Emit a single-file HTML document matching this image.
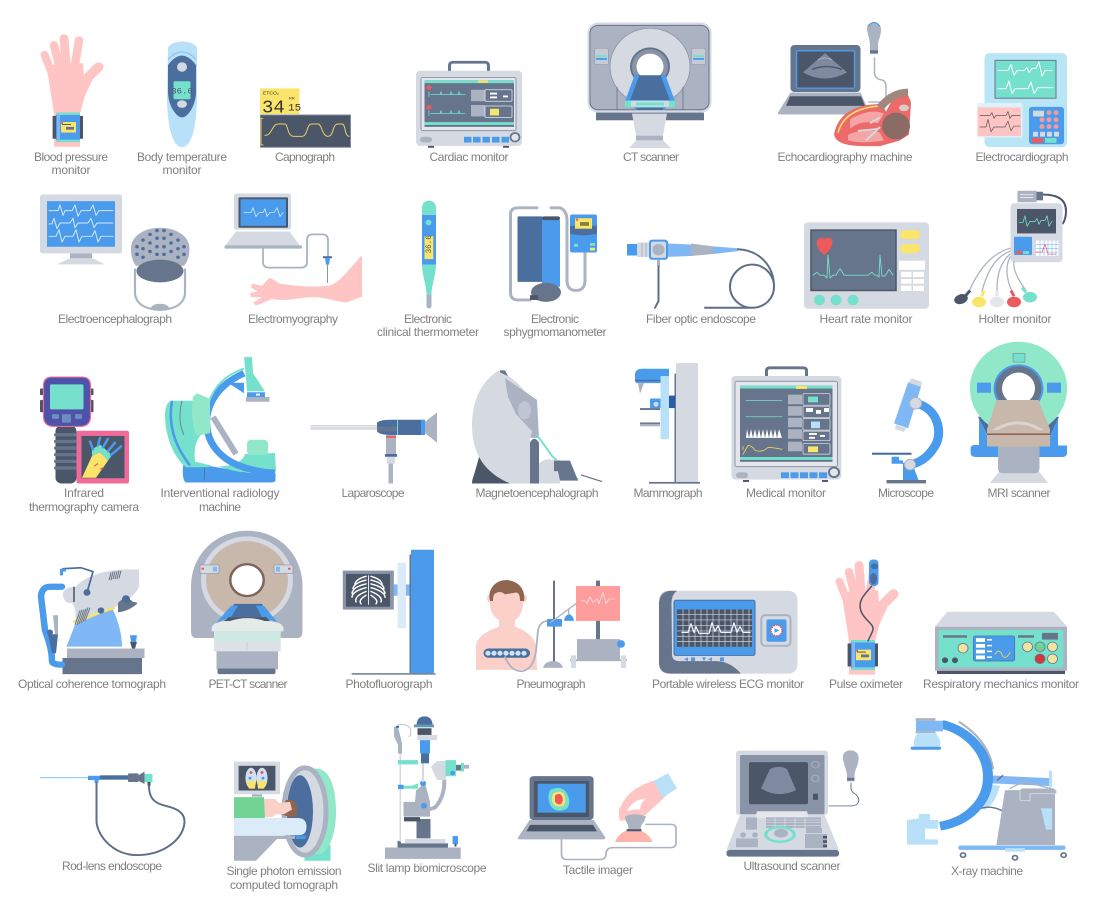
<!DOCTYPE html>
<html><head><meta charset="utf-8"><title>Medical devices</title>
<style>
html,body{margin:0;padding:0;background:#fff}
svg{display:block}
.lg{fill:#d5d9e1}.mg{fill:#abb3c2}.sl{fill:#66748c}.dk{fill:#4b5669}.bl{fill:#4a9bec}.db{fill:#4a6e9e}.lb{fill:#b8e0f8}.te{fill:#75e0cc}.mi{fill:#90e8c8}.ye{fill:#fae56a}.pk{fill:#ffc5c5}.re{fill:#ec5b5b}.wh{fill:#fff}.mb{fill:#7fb8f5}
.n{fill:none;stroke-linecap:round;stroke-linejoin:round}
.l text,text.t{font:12px "Liberation Sans",sans-serif;fill:#808080;text-anchor:middle}
</style></head><body>
<svg width="1095" height="912" viewBox="0 0 1095 912" xmlns="http://www.w3.org/2000/svg">
<defs>
<g id="hand">
<g stroke="#ffc5c5" stroke-linecap="round" fill="none">
<path d="M44.500 57L55 85" stroke-width="8"/><path d="M54 47L62 80" stroke-width="8.500"/><path d="M64 40L67 80" stroke-width="9"/><path d="M79 42L73 80" stroke-width="8.500"/><path d="M98.500 70L84 85" stroke-width="10"/>
</g>
<path class="pk" d="M47 72L56 66L83 66L84 80L96 76L85 100L80 119L80 154L54 154L54 119Z"/>
<rect x="52.600" y="121.500" width="30.400" height="24" class="dk"/>
<rect x="56" y="118" width="24" height="31" class="bl"/>
<rect x="56" y="118" width="24" height="2.500" class="te"/><rect x="56" y="146.500" width="24" height="2.500" class="te"/>
<rect x="57" y="120" width="3" height="27" class="mb"/>
<rect x="61" y="128" width="15" height="11" class="ye"/><rect x="62" y="130" width="9" height="1" class="dk"/><rect x="66" y="133" width="8" height="3" class="sl"/><rect x="61" y="128" width="2" height="2" class="re"/>
</g>
</defs>

<!-- ROW 1 LEFT -->
<g transform="translate(0,.5) scale(1,.95)">
<use href="#hand"/>

<path class="lb" d="M168 50Q170 44 182 43Q195 44 197 50L197 100C197 130 192 154.500 182 154.500C172 154.500 167 130 167 100Z"/>
<path d="M168 62Q182 46 196 62" fill="none" stroke="#7fbcf0" stroke-width="1"/>
<path class="db" d="M168 68Q182 48 196 68L196 96C196 110 188 123 182 123C176 123 168 110 168 96Z"/>
<circle cx="182" cy="70" r="5" class="lg"/><rect x="173.500" y="85" width="17" height="19" rx="1.500" class="te"/>
<text x="182" y="98" font-family="Liberation Mono,monospace" font-size="9" text-anchor="middle" fill="#4b5669">36.6</text>
<ellipse cx="182" cy="109" rx="5" ry="4" class="lg"/>

<rect x="260" y="92.500" width="39.500" height="27" class="ye"/>
<text x="263" y="99" font-family="Liberation Sans,sans-serif" font-size="5" fill="#333">ETCO₂</text>
<text x="262" y="118" font-family="Liberation Mono,monospace" font-size="19" fill="#333">34</text>
<text x="289" y="104" font-family="Liberation Sans,sans-serif" font-size="4" fill="#333">RR</text>
<text x="288" y="116" font-family="Liberation Mono,monospace" font-size="11" fill="#333">15</text>
<rect x="260.500" y="120.500" width="90" height="34" class="dk" stroke="#7f8aa0"/>
<path class="n" d="M263 124H261V152H263M265 142C272 142 272 130 278 130H285C288 130 287 143 294 143H302C308 143 306 130 312 130H318C322 130 322 143 328 143C334 143 332 130 338 130H342C346 130 344 142 349 143" stroke="#e8d060" stroke-width="1"/>

<path d="M449.500 75V69Q449.500 65 453 65H485Q488.500 65 488.500 69V75" fill="none" stroke="#66748c" stroke-width="3"/>
<rect x="416" y="74" width="106" height="79" rx="4" class="lg"/>
<rect x="421" y="81" width="95" height="56" rx="2" fill="#e4e6ec" stroke="#8a94a8"/>
<rect x="424.500" y="84" width="89.500" height="49" class="sl"/>
<rect x="424.500" y="84" width="89.500" height="3" class="te"/><rect x="424.500" y="128" width="89.500" height="3" class="te"/>
<rect x="478" y="84" width="10" height="2.500" class="ye"/>
<path class="n" d="M431 99H465M431 119H465" stroke="#75e0cc" stroke-width=".8"/>
<path class="n" d="M429 96V101M429 116V121M440 99l1-3 1 3M450 99l1-3 1 3M458 99l1-3 1 3M440 119l1-3 1 3M450 119l1-3 1 3M458 119l1-3 1 3" stroke="#75e0cc" stroke-width=".8"/>
<circle cx="429" cy="91.500" r="2.500" class="re"/><circle cx="429" cy="112.500" r="2.500" class="re"/>
<rect x="471" y="94" width="14" height="12" fill="#abb3c2"/><rect x="471" y="110" width="14" height="12" fill="#abb3c2"/>
<rect x="485" y="94" width="27" height="12" rx="1" fill="#66748c" stroke="#e4e6ec" stroke-width=".8"/>
<rect x="485" y="111" width="27" height="12" rx="1" fill="#66748c" stroke="#e4e6ec" stroke-width=".8"/>
<rect x="490" y="97" width="7" height="2" class="wh"/><rect x="490" y="101" width="7" height="2" class="wh"/><rect x="503" y="100" width="5" height="2" class="wh"/>
<rect x="490" y="114" width="9" height="7" class="ye"/>
<rect x="420" y="143.500" width="12" height="6" rx="3" class="mg"/>
<rect x="464" y="143.500" width="7.500" height="6" class="bl"/><rect x="473" y="143.500" width="7.500" height="6" class="bl"/><rect x="482.500" y="143.500" width="7.500" height="6" class="bl"/><rect x="492" y="143.500" width="7.500" height="6" class="bl"/><rect x="501.500" y="143.500" width="7.500" height="6" class="bl"/>
<circle cx="515" cy="144" r="4.500" fill="#e4e6ec" stroke="#66748c" stroke-width="1.800"/>
<rect x="428" y="153" width="6" height="2" class="dk"/><rect x="503" y="153" width="6" height="2" class="dk"/>
</g>

<!-- ROW 1 RIGHT -->
<g transform="translate(0,.41) scale(1,.959)">
<rect x="587.500" y="23" width="124" height="94" rx="11" class="lg"/>
<rect x="590" y="26" width="119" height="88" rx="8" class="mg" stroke="#66748c"/>
<rect x="596" y="117" width="108" height="8" class="sl"/>
<path class="lg" d="M632 118H667L663 141H636Z"/><rect x="636" y="141" width="27" height="5" class="mg"/><path class="lg" d="M636 146H663L671 154H629Z"/>
<circle cx="650" cy="69" r="40" class="lg" stroke="#8a94a8" stroke-width=".8"/>
<circle cx="650" cy="69" r="20" class="sl"/><circle cx="650" cy="69" r="18" fill="#8a94a8"/><circle cx="650" cy="69" r="13.500" class="wh"/>
<rect x="594.500" y="50" width="14" height="17" rx="2" fill="#c6cbd6" stroke="#8a94a8" stroke-width=".6"/><rect x="691.500" y="50" width="14" height="17" rx="2" fill="#c6cbd6" stroke="#8a94a8" stroke-width=".6"/>
<rect x="596" y="57" width="11" height="2" class="te"/><rect x="596" y="60" width="11" height="2" class="bl"/><rect x="693" y="57" width="11" height="2" class="te"/><rect x="693" y="60" width="11" height="2" class="bl"/>
<path d="M637 78H663L671 104H629Z" class="db"/>
<path d="M637 78L627 106M663 78L673 106" stroke="#4a9bec" stroke-width="4.500"/>
<path class="bl" d="M627 104L636 114H664L673 104Z"/>
<rect x="625" y="104.500" width="50" height="7" class="te"/><rect x="631" y="105" width="38" height="6" class="lg"/><rect x="636" y="106.500" width="28" height="3" class="te"/>
<rect x="637" y="112" width="26" height="2" class="db"/>
<path d="M617 90V114M683 90V114" stroke="#66748c" stroke-width=".8"/>

<rect x="790.500" y="46.500" width="70" height="49" rx="4" class="sl"/>
<rect x="796.500" y="52.500" width="58" height="39" rx="1" class="dk" stroke="#4a9bec" stroke-width="1.500"/>
<path d="M803 75L825 55L847 75Q825 88 803 75Z" fill="#7f8aa0"/>
<path d="M812 72Q826 66 842 72" fill="none" stroke="#4b5669" stroke-width="1.500"/><path d="M818 62Q825 58 832 62" fill="none" stroke="#abb3c2"/>
<path class="mg" d="M790.500 96H860.500L870 118.500Q870 119 867 119H781Q777 119 778 117Z"/>
<path class="dk" d="M790 100H861L865 110H786Z"/>
<path class="n" d="M874.500 60V76Q875 82 882 83Q886 84 886 90V102Q886 106 880 106H869" stroke="#abb3c2" stroke-width="1.500"/>
<path class="mg" d="M867 30C866 21 881 21 881 30C881 39 878 40 878 48V56H870V48C870 40 868 38 867 30Z"/>
<path d="M868 27Q874 19 880 27" fill="none" stroke="#4a9bec" stroke-width="1.200"/><rect x="870" y="52" width="8" height="3" class="sl"/>
<path d="M834 140C837 122 850 108 882 108L886 116L895 98L907 96L911 106L909 140L900 146L880 152H866C850 152 836 150 834 140Z" fill="#ec6a6a"/>
<path d="M838 138C842 122 855 112 880 110" fill="none" stroke="#fae56a" stroke-width="1.500"/>
<path d="M850 124Q870 112 884 118L878 128Q860 124 850 134Z" fill="#f6a5a5"/>
<path d="M848 140Q866 132 880 138L884 146Q862 150 848 146Z" fill="#f6a5a5"/>
<path d="M880 112Q892 96 908 96" stroke="#a08880" stroke-width="8" fill="none"/>
<circle cx="896" cy="131" r="14" fill="#8a6c64"/><ellipse cx="904" cy="112" rx="5" ry="3.500" fill="#d8ccc8"/>
<path d="M880 132L866 146M880 122L870 128M878 134L858 136" stroke="#d5d9e1" stroke-width="2"/>

<rect x="984.500" y="55" width="82.500" height="98" rx="5" fill="#b8e6f6"/>
<rect x="995" y="62.500" width="61" height="39.500" class="te" stroke="#66748c" stroke-width="1"/>
<path class="n" d="M998 73H1008L1011 67L1014 78L1017 73H1024L1027 70L1029 75L1032 71H1036L1039 64L1042 79L1045 73H1052M998 92H1006L1009 84L1012 97L1015 92H1028L1031 85L1034 97L1038 91H1053" stroke="#fff" stroke-width="1"/>
<rect x="977.500" y="107" width="45" height="36" fill="#dff2fa"/>
<rect x="977.500" y="111.500" width="43.500" height="30" class="pk"/>
<path class="n" d="M980 120H990L992 117L994 123L996 120H1006L1008 116L1010 123L1012 120H1020M980 132H986L988 124L991 137L994 132H1005L1008 126L1011 136L1014 131H1020" stroke="#555" stroke-width=".7"/>
<rect x="1029" y="111" width="35" height="39" rx="3" class="bl"/>
<rect x="1033" y="115" width="11" height="6" class="lg"/>
<g fill="#f49a9a"><circle cx="1049" cy="117" r="2.500"/><circle cx="1056" cy="117" r="2.500"/><circle cx="1049" cy="124.500" r="2.500"/><circle cx="1056" cy="124.500" r="2.500"/><circle cx="1042" cy="124.500" r="2.500"/><circle cx="1049" cy="131.500" r="2.500"/><circle cx="1056" cy="131.500" r="2.500"/><circle cx="1042" cy="131.500" r="2.500"/></g>
<g class="lg"><rect x="1033" y="137" width="5" height="5"/><rect x="1040" y="137" width="5" height="5"/><rect x="1047" y="137" width="5" height="5"/><rect x="1054" y="137" width="5" height="5"/></g>
<rect x="1032" y="143.500" width="11" height="5" class="re"/><rect x="1045" y="143.500" width="11.500" height="5" class="te"/>
</g>

<!-- ROW 2 LEFT -->
<g transform="translate(0,9.25) scale(1,.95)">
<rect x="40" y="195" width="82" height="62" rx="2.500" class="lg"/>
<rect x="47" y="202" width="68" height="48" class="bl"/>
<path class="n" d="M49 212H58L60 206L63 217L65 212H72L75 206L78 218L81 212H90L93 206L96 217L99 212H113M49 226H52L54 220L57 231L60 225H70L73 220L75 230L78 225H88L91 220L94 230L97 225H113M49 239H56L59 232L62 245L65 239H73L76 232L79 245L82 239H92L95 233L98 245L101 239H113" stroke="#d5e8fa" stroke-width="1"/>
<rect x="70" y="257" width="22" height="5.500" class="mg"/><path class="lg" d="M70 262H92L105 268.500H57Z"/>
<path d="M135 273V300Q137 312 150 315Q160 318 170 315Q183 312 185 300V273" fill="none" stroke="#abb3c2" stroke-width="2.200"/>
<path class="mg" d="M160 310Q152 310 150 316Q160 318 170 316Q168 310 160 310Z"/>
<path class="mg" d="M131 252C131 238 145 230 160 230C175 230 189.500 238 189.500 252C189.500 262 186 268 184 270H136C134 268 131 262 131 252Z"/>
<g class="db"><circle cx="137" cy="250" r="1.800"/><circle cx="137" cy="258" r="1.800"/><circle cx="143" cy="243" r="1.800"/><circle cx="143" cy="252" r="1.800"/><circle cx="143" cy="261" r="1.800"/><circle cx="150" cy="237" r="1.800"/><circle cx="150" cy="246" r="1.800"/><circle cx="150" cy="255" r="1.800"/><circle cx="157" cy="233" r="1.800"/><circle cx="157" cy="241" r="1.800"/><circle cx="157" cy="250" r="1.800"/><circle cx="157" cy="258" r="1.800"/><circle cx="164" cy="233" r="1.800"/><circle cx="164" cy="241" r="1.800"/><circle cx="164" cy="250" r="1.800"/><circle cx="164" cy="258" r="1.800"/><circle cx="171" cy="237" r="1.800"/><circle cx="171" cy="246" r="1.800"/><circle cx="171" cy="255" r="1.800"/><circle cx="178" cy="243" r="1.800"/><circle cx="178" cy="252" r="1.800"/><circle cx="178" cy="261" r="1.800"/><circle cx="184" cy="250" r="1.800"/><circle cx="184" cy="258" r="1.800"/></g>
<ellipse cx="160" cy="275.500" rx="23.500" ry="12" class="sl"/>

<rect x="234" y="194" width="57" height="38" rx="2.500" class="lg"/>
<rect x="238.500" y="198" width="49.500" height="32" rx="1" class="dk"/><rect x="240.500" y="200" width="45.500" height="28" class="bl"/>
<path class="n" d="M244 214H251L253 209L256 218L259 214H263L265 210L267 218L270 214H274L277 209L280 218L283 214" stroke="#d5e8fa" stroke-width=".8"/>
<path class="lg" d="M236 234H289.500L300 249H225Z"/><rect x="224.500" y="248.500" width="77.500" height="3.500" rx="1.500" class="mg"/>
<path class="n" d="M263 252V266Q263 272 269 272H301Q307 272 307 266V243Q307 237 313 237H322Q328 237 328 243V260" stroke="#abb3c2" stroke-width="1.800"/>
<rect x="323" y="260" width="9" height="2" class="db"/><path class="bl" d="M325 262H330L329 269H326Z"/><path d="M327.500 269V288" stroke="#8a94a8"/>
<path class="pk" d="M362 259V302.500L347 308.500C340 309 325 303 314 303C300 303 288 308 272 305L256 312L253 309L262 303L251 303L250 299L258 297L251 293L252 289L262 291L269 283L271 283L280 289C294 291 310 293 328 291C338 290 348 275 362 259Z"/>

<path class="te" d="M422 216.500V209C422 199 436 199 436 209V216.500Z"/>
<rect x="422" y="216.500" width="14" height="52.500" class="bl"/>
<path class="te" d="M422 269H436C436 280 431.500 290 431.500 300H426.500C426.500 290 422 280 422 269Z"/>
<path class="mg" d="M426.500 300H431.500V313Q429 317 426.500 313Z"/>
<circle cx="428.500" cy="224.500" r="3" class="te"/><rect x="424.500" y="239" width="8.800" height="24" class="ye"/>
<text x="0" y="0" transform="translate(431,257) rotate(-90)" font-family="Liberation Mono,monospace" font-size="8" fill="#4b5669">36.6</text>

<path class="n" d="M537 209H518Q510.500 209 510.500 216V298Q510.500 306 518 306H530" stroke="#abb3c2" stroke-width="3"/>
<path class="n" d="M551 209H560Q567 212 567 222V285Q567 296 576 296Q585 296 585 285V256" stroke="#abb3c2" stroke-width="3"/>
<rect x="517.500" y="218" width="25" height="69" rx="1" class="db"/><path class="bl" d="M542 222Q552 218 560 222V292H542Z"/><rect x="542" y="218" width="18" height="4" rx="2" class="dk"/>
<ellipse cx="546" cy="298" rx="15" ry="10" class="sl"/><rect x="530" y="301" width="8" height="5" class="dk"/>
<rect x="570" y="216" width="27" height="40" rx="2" class="bl"/><path class="db" d="M570 228H597V236Q583 240 570 236Z"/>
<rect x="575" y="220" width="17" height="11" class="ye"/><circle cx="577" cy="221.500" r="1.300" class="re"/><rect x="580" y="224" width="9" height="4" fill="#8a7f40"/>
<rect x="590" y="246" width="5" height="3" class="te"/><rect x="590" y="251" width="5" height="3" class="ye"/><rect x="574" y="247" width="4" height="3" class="te"/>
</g>

<!-- ROW 2 RIGHT -->
<g transform="translate(0,7.585) scale(1,.959)">
<rect x="627" y="246.500" width="10" height="12" class="bl"/>
<path class="lg" d="M637 245H651V260H637Z"/><path d="M642 245V260M646 245V260" stroke="#abb3c2"/>
<path class="mb" d="M668 246L691 247V259L668 260Z"/>
<path class="mg" d="M691 246L713 249V257L691 259Z"/>
<path class="mb" d="M713 249L738 251V254L713 257Z"/>
<rect x="649" y="242" width="19" height="21" rx="3" class="bl"/><rect x="651" y="244" width="15" height="17" rx="2" class="lg"/><circle cx="658.500" cy="252.500" r="6" class="mg"/>
<rect x="657" y="263" width="3" height="7" class="mg"/>
<path class="n" d="M658.500 270V306L655 313" stroke="#5f6e88" stroke-width="2"/>
<path class="n" d="M738 252C760 253 774 270 774 291C774 304 764 313 752 313C740 313 730 303 730 291C730 279 740 268 752 268C763 268 772 276 774 288M705 313H752" stroke="#5f6e88" stroke-width="2"/>

<rect x="804" y="224" width="125" height="90" rx="4" class="lg"/>
<rect x="811" y="232" width="85" height="63" class="sl" stroke="#4b5669" stroke-width="1.500"/>
<path d="M825 257C815 250 816 240 821 239C823 238.500 825 240 825 241C825 240 828 238.500 830 239C835 240 834 250 825 257Z" class="re" transform="translate(-.5,1)"/>
<path class="n" d="M813 279L817 276L820 279H824L827 282L828 258L830 282L833 279H836L840 272L844 279L868 279L872 276L875 279H877L879 281L880 258L882 280H885L889 273L893 279" stroke="#75e0cc" stroke-width=".9"/>
<rect x="900" y="232" width="20" height="9.500" rx="4.700" class="ye"/><rect x="900" y="246.500" width="20" height="9.500" rx="4.700" class="ye"/>
<rect x="899" y="264" width="26" height="9.500" class="wh"/>
<g class="wh"><rect x="901" y="275.500" width="10.500" height="5.500"/><rect x="913" y="275.500" width="11" height="5.500"/><rect x="901" y="283" width="10.500" height="5"/><rect x="913" y="283" width="11" height="5"/><rect x="901" y="290" width="10.500" height="5.500"/><rect x="913" y="290" width="11" height="5.500"/></g>
<circle cx="819.500" cy="305" r="5.500" class="te"/><circle cx="836" cy="305" r="5.500" class="te"/><circle cx="853" cy="305" r="5.500" class="te"/>

<path class="n" d="M1043 195Q1066 195 1066 212Q1066 220 1063 225" stroke="#4b5669" stroke-width="2"/>
<rect x="1017.500" y="191" width="19" height="12" class="mg"/><path d="M1036.500 192H1043V201H1036.500Z" class="sl"/>
<path d="M1020 195H1033M1020 198H1033" stroke="#e4e6ec"/>
<rect x="1010.500" y="204" width="52" height="61.500" rx="4" class="lg"/>
<rect x="1017" y="210" width="39" height="25.500" class="dk"/>
<path class="n" d="M1019 224H1023L1025 217L1027 228L1030 223H1035L1037 220L1039 226L1041 222H1045L1047 217L1049 228L1052 223" stroke="#75e0cc" stroke-width=".8"/>
<rect x="1014" y="239" width="18" height="19" rx="1" class="bl"/><rect x="1016" y="254" width="6" height="3" class="re"/><rect x="1023" y="254" width="6" height="3" class="te"/>
<rect x="1036" y="243" width="22.500" height="16" class="wh"/>
<path d="M1040 243V259M1044 243V259M1048 243V259M1052 243V259M1056 243V259M1036 247H1058M1036 251H1058M1036 255H1058" stroke="#7fb8f5" stroke-width=".6"/>
<path class="n" d="M1036 255H1042L1045 247L1048 257H1056" stroke="#ec5b5b" stroke-width=".7"/>
<g class="n" stroke="#abb3c2" stroke-width="1.300">
<path d="M1010 251Q985 258 969 296"/><path d="M1010 254Q990 262 982 296"/><path d="M1010 257Q996 270 997 297"/><path d="M1010 260Q1003 275 1012 296"/><path d="M1014 265Q1012 275 1026 295"/>
</g>
<ellipse cx="961" cy="304" rx="7" ry="5" transform="rotate(-20 961 304)" class="dk"/><path d="M966 300L970 295" stroke="#4b5669" stroke-width="3"/>
<ellipse cx="979" cy="307" rx="7" ry="5.500" class="ye"/><path d="M982 301L984 295" stroke="#fae56a" stroke-width="3"/>
<ellipse cx="997" cy="307" rx="7" ry="5.500" fill="#e4e6ec"/><path d="M997 301V295" stroke="#e4e6ec" stroke-width="3"/>
<ellipse cx="1014" cy="307" rx="7" ry="5.500" class="re"/><path d="M1014 301L1011 295" stroke="#ec5b5b" stroke-width="3"/>
<ellipse cx="1030" cy="302" rx="7" ry="5.500" class="te"/><path d="M1026 297L1022 292" stroke="#75e0cc" stroke-width="3"/>
</g>

<!-- ROW 3 LEFT -->
<g transform="translate(0,17) scale(1,.95)">
<rect x="40" y="391" width="4" height="7" rx="1" class="dk"/><rect x="40" y="403" width="4" height="13" rx="1" class="dk"/><rect x="89.500" y="391" width="4" height="7" rx="1" class="dk"/><rect x="89.500" y="403" width="4" height="13" rx="1" class="dk"/>
<rect x="55.500" y="430" width="21" height="61" rx="6" class="dk"/>
<g class="sl"><rect x="54" y="438" width="23" height="3.500" rx="1.700"/><rect x="54" y="445" width="23" height="3.500" rx="1.700"/><rect x="54" y="452" width="23" height="3.500" rx="1.700"/><rect x="54" y="459" width="23" height="3.500" rx="1.700"/><rect x="54" y="466" width="23" height="3.500" rx="1.700"/><rect x="54" y="473" width="23" height="3.500" rx="1.700"/></g>
<path d="M43.500 388Q43.500 379 52 379H82Q90.500 379 90.500 388V421Q90 431 80 431H54Q44 431 43.500 421Z" fill="#4e52a8" stroke="#f06b9a" stroke-width="1.200"/>
<rect x="50" y="386.700" width="33.500" height="26.300" rx="1.500" class="te"/>
<rect x="52" y="418" width="7" height="5" rx="1" fill="#6c8fc0"/><rect x="62" y="418" width="9" height="9" rx="1" fill="#6c8fc0"/><rect x="75" y="418" width="7" height="5" rx="1" fill="#6c8fc0"/>
<rect x="76.500" y="435.500" width="52.500" height="55.500" rx="2" fill="#f06b9a"/>
<rect x="81.500" y="441" width="43" height="44.500" class="dk"/>
<path d="M82 485L92 462L100 458L108 467L96 485Z" class="ye"/>
<path d="M92 462L92 455L100 450L112 461L108 467L100 458Z" class="te"/>
<g class="n" stroke="#4a9bec" stroke-width="2.500"><path d="M93 455L90 447"/><path d="M98 451L100 443"/><path d="M103 453L108 444"/><path d="M108 457L115 448"/><path d="M111 461L121 452"/></g>
<path d="M94 473L98 470M104 474L100 476" stroke="#ec5b5b" stroke-width="1.200"/>

<path class="bl" d="M183 472H205Q230 476 250 480L275.500 480V488Q275 490 270 490H186Q182 488 183 472Z"/>
<path d="M205 472L204 488" stroke="#4b5669" stroke-width=".5"/>
<path class="te" d="M219 473Q242 472 245 460L275 459L276 478Q255 480 240 479Q226 476 219 473Z"/>
<rect x="247" y="445" width="21" height="16" rx="4" class="mi"/>
<path d="M213 421L236 460" stroke="#abb3c2" stroke-width="6"/>
<path d="M244 375Q212 390 207 420Q204 448 226 465Q244 478 275 480" fill="none" stroke="#4a9bec" stroke-width="7"/>
<path d="M244 370Q216 380 208 408" fill="none" stroke="#75e0cc" stroke-width="2"/>
<path d="M218 385H244V384L244 396L228 385Z" class="bl"/>
<path class="te" d="M244 358H252L253 375L265 394H247L246 380Z"/>
<rect x="247" y="395" width="18" height="5" class="bl"/><rect x="256" y="396.500" width="4" height="2" class="wh"/>
<rect x="246" y="400" width="23.500" height="5" class="mg"/>
<path class="te" d="M172 404H195L210 432C200 440 193 445 195 468L211 472L208 474H186C172 462 165 438 165 420C165 410 168 404 172 404Z"/>
<path d="M172 404Q166 440 190 472" fill="none" stroke="#4a9bec" stroke-width="2.500"/>
<path d="M182 404Q177 425 184 440" fill="none" stroke="#66748c" stroke-width=".8"/>
<path class="mi" d="M197 396L210 402L210 438L196 441Q190 420 193 400Z"/>

<rect x="310.500" y="429.500" width="67" height="5" class="lg"/>
<path d="M310.500 431.500H377" stroke="#f0f2f5"/>
<path class="db" d="M377 427Q380 424 390 424H425V440H390Q380 440 377 436Z"/>
<rect x="397" y="424" width="1" height="16" class="te"/><rect x="377" y="431" width="20" height="5" class="sl"/>
<rect x="421" y="424" width="4" height="16" class="bl"/>
<path class="mg" d="M425 426L437 416.500V448L425 438Z"/>
<rect x="386" y="440" width="10" height="21" class="mg"/><rect x="386" y="441" width="10" height="2" class="re"/>
<rect x="385" y="460" width="12" height="3" class="db"/><rect x="387" y="463" width="8" height="7" class="lg"/><rect x="388.500" y="470" width="4.500" height="21" class="mg"/>

<path class="dk" d="M472 491Q472 487 474 482L481 456L516 491Z"/>
<path class="lg" d="M499 372C478 385 472 410 472 430C472 460 485 480 510 491H530V443L537 414C528 395 515 380 499 372Z"/>
<path class="sl" d="M500 372H505L508 378L500 374Z"/>
<path class="mg" d="M505 380L537 403L539 443H530L532 436L516 418L508 400Z"/>
<ellipse cx="524.500" cy="414" rx="6.500" ry="9.500" fill="#bfc5d1"/>
<path d="M537 440L552 462L578 487" stroke="#75e0cc" stroke-width="2" fill="none"/>
<path class="lg" d="M539 491V470Q545 464 552 466H560V491Z"/>
<path class="sl" d="M530 448Q534 440 539 448V491H530Z"/>
<path class="sl" d="M554 467H570L578 488H560L558 478H554Z"/>
<path d="M581 482L602 489" stroke="#66748c" stroke-width="1.300"/>
</g>

<!-- ROW 3 RIGHT -->
<g transform="translate(0,13.94) scale(1,.959)">
<rect x="676" y="364" width="22" height="125" rx="1" class="lg"/><rect x="674.500" y="375" width="1.500" height="114" class="sl"/><rect x="649" y="488" width="51" height="1.800" class="sl"/>
<path class="bl" d="M635 381V375Q636 370 642 370H669V385H636Z"/><rect x="635" y="381.500" width="26" height="1.500" class="db"/><path class="mg" d="M638 385H644L640 396Z"/>
<rect x="669" y="398" width="6" height="13" fill="#2a5aa8"/>
<rect x="650" y="401" width="11" height="10" rx="1" class="bl"/><circle cx="656" cy="407" r="2.500" class="lg"/>
<rect x="640" y="411" width="20" height="2" class="sl"/><rect x="640" y="426" width="20" height="4" class="mg"/><rect x="640" y="426" width="20" height="1.500" class="sl"/>
<rect x="660.500" y="377.500" width="8.500" height="66" rx="1" class="lb"/>

<path d="M766.500 378V372Q766.500 369 770 369H803Q806.500 369 806.500 372V378" fill="none" stroke="#66748c" stroke-width="3"/>
<rect x="731.400" y="377.500" width="110" height="108" rx="4" class="lg"/>
<rect x="735" y="383" width="102.500" height="89" rx="2" fill="#e4e6ec" stroke="#8a94a8"/>
<rect x="740" y="387.600" width="92.500" height="79.400" class="sl"/>
<rect x="740" y="387.600" width="92.500" height="3" class="te"/><rect x="740" y="462" width="92.500" height="3" class="te"/><rect x="796" y="388" width="11" height="3" class="ye"/>
<path class="n" d="M746 403H782M746 420H782" stroke="#75e0cc" stroke-width=".8"/>
<path class="wh" d="M746 442L747 433L749 442L751 433L753 442L755 433L757 442L759 433L761 442L763 433L765 442L767 433L769 442L771 433L773 442L775 433L777 442L779 433L782 442Z"/>
<path class="n" d="M743 451V454M743 459L748 450Q752 450 755 455Q762 458 768 452Q774 452 782 454" stroke="#e8d060" stroke-width=".9"/>
<g class="mg"><rect x="788" y="397" width="14" height="10"/><rect x="788" y="409" width="14" height="10"/><rect x="788" y="421" width="14" height="10"/><rect x="788" y="433" width="14" height="10"/><rect x="788" y="446" width="14" height="10"/></g>
<g fill="#66748c" stroke="#e4e6ec" stroke-width=".7"><rect x="803" y="396" width="27" height="12" rx="1"/><rect x="803" y="409" width="27" height="12" rx="1"/><rect x="803" y="422" width="27" height="12" rx="1"/><rect x="803" y="435" width="27" height="10" rx="1"/><rect x="803" y="448" width="27" height="11" rx="1"/></g>
<rect x="808" y="399" width="10" height="6" class="te"/><rect x="806" y="411" width="7" height="4" class="wh"/><rect x="816" y="413" width="5" height="4" class="wh"/><rect x="824" y="411" width="5" height="4" class="wh"/><rect x="811" y="425" width="9" height="7" class="lb"/><rect x="809" y="437" width="8" height="2" class="wh"/><rect x="809" y="441" width="6" height="2" class="wh"/><rect x="820" y="439" width="5" height="2" class="wh"/><rect x="808" y="451" width="10" height="6" class="ye"/>
<rect x="736" y="478" width="12" height="6" rx="3" class="mg"/>
<rect x="781" y="478" width="8" height="6" class="bl"/><rect x="790.500" y="478" width="8" height="6" class="bl"/><rect x="800" y="478" width="8" height="6" class="bl"/><rect x="809.500" y="478" width="8" height="6" class="bl"/><rect x="819" y="478" width="8" height="6" class="bl"/>
<circle cx="834" cy="478" r="5" fill="#e4e6ec" stroke="#66748c" stroke-width="2"/>
<rect x="743" y="486" width="6" height="2" class="dk"/><rect x="822" y="486" width="6" height="2" class="dk"/>

<rect x="886.500" y="486" width="39.500" height="3.500" class="sl"/>
<path class="bl" d="M903 468H912L918.500 486H903Z"/>
<path d="M916 406C940 412 943 440 934 452C928 462 920 468 910 470" fill="none" stroke="#4a9bec" stroke-width="9"/>
<rect x="872" y="457.500" width="39.500" height="2.200" class="db"/>
<path class="bl" d="M891.600 461.700H899V465.500H903V469H891.600Z"/>
<path class="lg" d="M911.500 380L922 383.500L921 389L908 385Z"/>
<path class="mb" d="M908 384.500L921 388.700L908 432L894 427Z"/>
<path class="lg" d="M896 428L906 432L904 436L895 433Z"/>
<circle cx="915.600" cy="406" r="6" class="lg" stroke="#abb3c2"/><circle cx="910" cy="470" r="5.500" class="lg" stroke="#abb3c2"/>

<path class="db" d="M978 420L990 445L1048 445L1059 420Z"/>
<circle cx="1018.500" cy="390.400" r="48.600" class="mi"/>
<path class="bl" d="M979 422L992 450H1045L1058 422L1058 450H1067V458Q1067 462 1062 462H976Q970.600 462 970.600 458V453Q970.600 449.500 975 449.500H979Z"/>
<circle cx="1018.500" cy="390.400" r="25" class="bl"/><circle cx="1018.500" cy="390.400" r="23" class="sl"/><circle cx="1018.500" cy="390.400" r="16.500" class="wh"/>
<rect x="1013" y="354" width="12" height="9" fill="#75e0cc" stroke="#66748c" stroke-width=".5"/>
<rect x="977" y="384.500" width="14" height="10.500" class="bl"/><rect x="1047" y="384.500" width="14" height="10.500" class="bl"/>
<path class="lg" d="M1000 476H1038L1048 489H990Z"/>
<path class="mg" d="M998 450H1039.500V474Q1039 479 1035 479H1003Q998 479 998 474Z"/>
<path d="M996.600 402.500H1038.400L1050 433V451H987V433Z" fill="#c8b8ac"/>
<rect x="987" y="437.500" width="63" height="1.500" fill="#8a5a48"/>
<path d="M992 434Q1018 416 1044 434Z" fill="#dcd4ce"/><path d="M998 434Q1018 422 1038 434Z" fill="#c8b8ac"/>
</g>

<!-- ROW 4 LEFT -->
<g transform="translate(0,26.25) scale(1,.95)">
<rect x="62.500" y="665" width="79.500" height="17" class="sl"/>
<path class="n" d="M62 590H50Q42 590 41 600L45 636Q52 655 52 668Q52 672 62 672" stroke="#4a9bec" stroke-width="6.500"/>
<circle cx="50" cy="638" r="3" class="db"/><path class="db" d="M48 640H58L56 660L52 660Z"/>
<path d="M53 620H58V640H55Z" class="mg"/>
<rect x="67" y="655" width="77.500" height="10" class="mg"/>
<path class="mb" d="M66.500 653L78 622L112 612C118 625 122 640 122 653Z"/>
<path class="lg" d="M139 572L139 590C135 600 124 607 112 613L75 630C76 620 76 612 72 607C66 608 63 603 63 598C63 593 68 590 76 590C85 578 110 570 139 572Z"/>
<path class="sl" d="M73 606V590L75 590V606Z"/>
<path d="M73 627L115 612" stroke="#fae56a" stroke-width="2.500"/>
<path class="sl" d="M118 607Q126 598 133 606Q138 606 137 608Q128 616 118 617Z"/>
<circle cx="126" cy="603" r="4" class="db"/>
<g stroke="#66748c" stroke-width="1"><path d="M111 575L109 583M113 574L111 583M115 574L113 582M117 574L115 582M119 573L117 582M121 573L119 581"/><path d="M80 615L75 630M82 614L77 630M84 614L79 629M86 613L81 628M88 612L83 627M90 612L85 626"/></g>
<path class="n" d="M63 571L81 570L93 574L87 596" stroke="#4a6e9e" stroke-width="1.800"/>
<circle cx="87" cy="596" r="3.500" class="db"/><circle cx="101" cy="615" r="3.300" class="db"/>
<path class="bl" d="M60 571H66V574H63L63 578H60Z"/>
<path class="bl" d="M130 641H137L136 648H131Z"/><path class="dk" d="M130 648H137L135 655H132Z"/>

<path class="mg" d="M191 636V590C191 555 217 531 247 531C278 531 302.500 555 302.500 590V636Q302.500 644 298 644H196Q191 644 191 636Z"/>
<circle cx="247" cy="583" r="46" class="lg"/><circle cx="247" cy="583" r="41" fill="#c8b8ac"/>
<circle cx="247" cy="583" r="18" fill="#7f6458"/><circle cx="247" cy="583" r="15.500" class="wh"/>
<rect x="200" y="567" width="19" height="9" rx="1" class="lg" stroke="#8a94a8" stroke-width=".7"/><rect x="274" y="567" width="19" height="9" rx="1" class="lg" stroke="#8a94a8" stroke-width=".7"/>
<rect x="201.500" y="570" width="2.500" height="2" class="re"/><rect x="213" y="569" width="4" height="5" class="mb"/><rect x="276" y="569" width="4" height="5" class="mb"/><rect x="288" y="570" width="2.500" height="2" class="re"/>
<path class="db" d="M234 608H262L268 622H228Z"/>
<path class="bl" d="M231 610H238L231 622L218 627H276L262 622L256 610H264L277 627L283 634H211L217 627Z"/>
<path d="M229 622H266L270 626H224Z" class="dk"/>
<path fill="#e4ecea" d="M211.600 634Q212 626 230 626Q247 620 265 626Q283 626 283.500 634V637H211.600Z"/>
<rect x="214" y="637" width="66.700" height="21" fill="#cfeae4"/>
<rect x="214" y="648" width="66.700" height="10" fill="#dde1e8"/>
<path d="M247 648V682" stroke="#bfc5d1" stroke-width=".6"/>
<rect x="216.500" y="658" width="61.500" height="19" class="mg"/>
<rect x="217.500" y="676" width="58" height="6" rx="2" class="sl"/>

<rect x="411" y="551" width="23" height="130" rx="1" class="bl"/><rect x="409.500" y="556" width="1.500" height="125" class="sl"/><rect x="351.600" y="681" width="84" height="1.500" class="sl"/>
<rect x="393.600" y="587.500" width="3.900" height="12" class="mb"/><rect x="406" y="587.500" width="3.500" height="12" class="mb"/>
<rect x="397.500" y="564.600" width="8.500" height="69.400" rx="1" fill="#dcebf8"/>
<rect x="342.800" y="573" width="51" height="41" fill="#8a94a8"/><rect x="346" y="576.500" width="44" height="34.500" class="dk"/>
<path d="M368.500 578V609" stroke="#e4e6ec" stroke-width="1"/>
<g class="n" stroke="#fff" stroke-width="1.500"><path d="M366 579Q356 582 355 587"/><path d="M366 583Q354 586 353 592"/><path d="M366 587Q353 590 352 597"/><path d="M366 591Q352 595 352 601"/><path d="M366 595Q354 600 356 606"/><path d="M366 599Q358 604 361 608"/><path d="M371 579Q381 582 382 587"/><path d="M371 583Q383 586 384 592"/><path d="M371 587Q384 590 385 597"/><path d="M371 591Q385 595 385 601"/><path d="M371 595Q383 600 381 606"/><path d="M371 599Q379 604 376 608"/></g>

<path fill="#fbd0c8" d="M476 677.500V652C478 640 490 636 499 632L499 625C493 622 490 615 490 607C485 604 487 598 491 598C491 588 498 583 506 583C516 583 524 590 524 598C528 598 528 606 523 607C523 615 520 622 515 625V632C525 636 534 642 536 652L537 677.500Z"/>
<path fill="#8f6550" d="M490 605C487 592 496 583 506 583C517 583 526 592 524 605H520Q520 596 516 596L505 598Q500 593 494 598Q493 600 493 605Z"/>
<rect x="483.500" y="655" width="46.500" height="9.700" rx="4.800" class="db"/><circle cx="488" cy="660" r="2.600" fill="#cfe2f5"/><circle cx="494" cy="660" r="2.600" fill="#cfe2f5"/><circle cx="500" cy="660" r="2.600" fill="#cfe2f5"/><circle cx="506" cy="660" r="2.600" fill="#cfe2f5"/><circle cx="512" cy="660" r="2.600" fill="#cfe2f5"/><circle cx="518" cy="660" r="2.600" fill="#cfe2f5"/><circle cx="524" cy="660" r="2.600" fill="#cfe2f5"/>
<path class="n" d="M505 664Q511 679 522 679Q533 677 536 658L538 636Q540 626 548 626" stroke="#abb3c2" stroke-width="1.800"/>
</g>

<!-- ROW 4 RIGHT -->
<g transform="translate(0,21.525) scale(1,.959)">
<rect x="553" y="583" width="2" height="85" class="sl"/><path class="mg" d="M543 674Q545 667 553 667Q561 667 563 674Z"/>
<rect x="547" y="623" width="15" height="8" rx="1" class="bl"/>
<path d="M550 627L580 604" stroke="#abb3c2" stroke-width="1.300"/>
<path class="bl" d="M564 625Q565 619 569 618Q573 619 574 625Z"/><rect x="568" y="612" width="1.300" height="7" class="mg"/>
<rect x="596" y="583" width="4" height="63" class="sl"/>
<rect x="576" y="588.600" width="44" height="36.400" fill="#ff9c9c"/>
<path class="n" d="M581 604H585L587 607L590 600L593 606L597 602L599 607L603 595L606 607L609 602H615" stroke="#ead8d8" stroke-width="1"/>
<rect x="577" y="644" width="43" height="22" class="mg"/><circle cx="621" cy="649" r="4" class="bl"/>
<rect x="570" y="665" width="57" height="2" class="mg"/><rect x="571" y="661" width="5" height="13" class="lg"/><rect x="621" y="661" width="5" height="13" class="lg"/>

<rect x="659" y="593.500" width="138.500" height="86.500" rx="9" class="lg"/>
<path class="sl" d="M671 593.500Q660 594 659 606V668Q659 680 671 680H741Q730 667 716 667H680Q672 667 672 660L671.500 608Q671 598 677 593.500Z"/>
<rect x="674" y="603.500" width="81" height="57.500" rx="2" class="bl" stroke="#4a6e9e" stroke-width="1"/>
<rect x="677" y="613" width="75" height="39" class="dk"/>
<path d="M683 613V652M689 613V652M695 613V652M701 613V652M707 613V652M713 613V652M719 613V652M725 613V652M731 613V652M737 613V652M743 613V652M749 613V652M677 618.500H752M677 624H752M677 630H752M677 635.500H752M677 641H752M677 646.500H752" stroke="#cfd5df" stroke-width=".7"/>
<path class="n" d="M682 637H688L691 628L694 637L696 631L699 638H709L712 627L715 636L718 630L721 637H731L734 627L737 637L740 631L743 637H750" stroke="#eef3fa" stroke-width="1.300"/>
<path class="bl" d="M684 665L688 663V667ZM691 663H695V667H691ZM702 663H706L704 667ZM708 665L712 663V667Z"/><rect x="720" y="663" width="4" height="4" class="bl"/>
<rect x="761.300" y="619" width="29.200" height="32" rx="4" class="lg" stroke="#abb3c2" stroke-width="2"/>
<rect x="766.500" y="623.400" width="20" height="23.300" rx="2" class="bl"/>
<circle cx="776.500" cy="635" r="5.500" class="wh" stroke="#ec5b5b" stroke-width="1.500" stroke-dasharray="1.500 1"/><path class="bl" d="M774.500 632.500L779.500 635L774.500 637.500Z"/>

<use href="#hand" x="795" y="527"/>
<path class="n" d="M871.500 589C862 600 858 605 861 615C865 625 874 628 873 634C872 638 870 641 868 646" stroke="#4b5669" stroke-width="1.500"/>
<rect x="869" y="561" width="9.500" height="27.600" rx="4" class="bl"/><rect x="871" y="565" width="7" height="6" rx="3" class="db"/><ellipse cx="873.500" cy="581" rx="3.500" ry="6" class="db"/>

<path class="lg" d="M947.300 615.400H1054L1067 631H935Z"/>
<rect x="935" y="631" width="132" height="46" class="mg"/>
<rect x="938.600" y="634.500" width="124.800" height="38.900" class="te"/>
<rect x="937" y="677" width="128" height="3.400" class="dk"/>
<rect x="943" y="640" width="24" height="2.500" class="sl"/><circle cx="963" cy="653.500" r="5" fill="#f0e4a0" stroke="#66748c" stroke-width=".8"/>
<circle cx="945" cy="666" r="3" class="dk"/><circle cx="955" cy="666" r="3" class="dk"/>
<rect x="973.400" y="640.700" width="41.300" height="26.100" rx="2" class="bl" stroke="#4a6e9e" stroke-width=".7"/>
<g class="wh"><rect x="976" y="643" width="9" height="4"/><rect x="976" y="649" width="9" height="4"/><rect x="976" y="655" width="9" height="4"/><rect x="976" y="661" width="9" height="4"/><rect x="987" y="644" width="5" height="1.500"/><rect x="987" y="650" width="5" height="1.500"/><rect x="987" y="656" width="5" height="1.500"/><rect x="987" y="662" width="5" height="1.500"/></g>
<path class="n" d="M995 660Q999 653 1002 660T1010 658" stroke="#e8d060" stroke-width="1"/>
<rect x="1018" y="640" width="16" height="2.500" class="sl"/><rect x="1042" y="637.500" width="16" height="7" class="sl"/>
<circle cx="1027.500" cy="652" r="5" fill="#f0e4a0" stroke="#66748c" stroke-width=".8"/><circle cx="1040" cy="652" r="5" fill="#72d494" stroke="#66748c" stroke-width=".8"/><circle cx="1052.500" cy="652" r="5" fill="#f0e4a0" stroke="#66748c" stroke-width=".8"/>
<circle cx="1040" cy="664.500" r="5" fill="#d8353a" stroke="#66748c" stroke-width=".8"/><circle cx="1052.500" cy="664.500" r="5" fill="#f0e4a0" stroke="#66748c" stroke-width=".8"/>
</g>

<!-- ROW 5 LEFT -->
<g transform="translate(0,35.25) scale(1,.95)">
<path d="M40 781.500H88" stroke="#9bcdf6" stroke-width="1.300"/><rect x="88" y="779.500" width="12" height="4.500" class="bl"/><rect x="100" y="779" width="28" height="4.600" class="db"/>
<rect x="128" y="777" width="10.600" height="9" rx="1" class="sl"/><path class="sl" d="M138.600 779L144.500 775V788L138.600 785Z"/><rect x="144.500" y="777.600" width="8" height="8.800" class="te"/>
<rect x="94.500" y="784" width="4" height="3" class="bl"/><rect x="147.500" y="786" width="3" height="4" class="dk"/>
<path class="n" d="M96.500 787V828C98 845 115 863 137 863C165 863 184 845 184.500 828C184.500 818 177 814 165 811C154 808 149 803 149 790" stroke="#5f6e88" stroke-width="2"/>

<path class="te" d="M304.500 852H330.500V869H304.500Z"/>
<path class="mi" d="M316 772C331 772 336 795 336 818C336 842 328 862 318 862L310 862L306 772Z"/>
<ellipse cx="305" cy="817" rx="21" ry="46" class="lg"/><ellipse cx="305" cy="817" rx="21" ry="46" fill="none" stroke="#abb3c2" stroke-width="5"/>
<ellipse cx="300" cy="817" rx="13" ry="38" class="db"/>
<rect x="234" y="764.600" width="46" height="34.400" rx="1.500" class="lg"/><rect x="238.600" y="769" width="36.800" height="26" class="dk"/>
<ellipse cx="251" cy="782" rx="5.500" ry="11" fill="#cfe2f5"/><ellipse cx="262" cy="782" rx="5.500" ry="11" fill="#cfe2f5"/><path class="ye" d="M246 785H256L255 793H249Z"/><path class="ye" d="M257 785H267L264 793H258Z"/><circle cx="251" cy="776" r="1.500" class="re"/><circle cx="262" cy="776" r="1.500" class="re"/><circle cx="250" cy="782" r="1.500" class="bl"/><circle cx="263" cy="782" r="1.500" class="bl"/>
<rect x="252" y="799" width="10" height="2.500" class="mg"/>
<path fill="#8f6550" d="M286 805Q296 803 297 813Q299 825 290 823L281 820Z"/>
<path fill="#fbd0c8" d="M264 804H275L279 808L290 807L292 815L284 820H276L272 823H264Z"/>
<path d="M234 802H264L265 826H234Z" fill="#72d494"/>
<path fill="#dcebf8" d="M234 824H299Q306.500 825 306.500 833Q306.500 842 299 842H234Z"/>
<path class="bl" d="M295 842.500H307L305 846H296Z"/>
<path class="mg" d="M234 842.500H295V846H277L256 869H234Z"/>

<rect x="385" y="855" width="75.700" height="12" class="mg"/><rect x="397.500" y="850.600" width="50.500" height="4.500" class="sl"/><rect x="397.500" y="848" width="3.500" height="3" class="sl"/>
<rect x="405" y="846" width="40.500" height="4.600" rx="1" class="lg"/>
<rect x="452.600" y="843" width="5.400" height="8.500" class="bl"/><rect x="454.500" y="851" width="2" height="3" class="dk"/>
<rect x="399.500" y="752" width="1.600" height="97" class="lg"/>
<path class="mg" d="M394 728H398L402 745V756H398V747L394 738Z"/><path class="n" d="M396 728Q402 722 410 729Q412 737 409 738" stroke="#abb3c2" stroke-width=".8"/>
<rect x="396" y="727" width="3" height="2" class="db"/>
<rect x="398" y="763" width="20" height="4.500" class="te"/>
<rect x="398" y="789" width="5.500" height="4.500" class="bl"/><path class="te" d="M403.500 790H412L418 787.500V793H403.500Z"/>
<rect x="416.500" y="825" width="14" height="20.400" class="sl"/><rect x="404" y="823" width="16" height="4.500" class="dk"/>
<path class="mg" d="M403.500 807H415L416 795L425 787L430 807V822.500H403.500Z"/>
<path class="n" d="M444 780Q446 800 435 813L425 816" stroke="#abb3c2" stroke-width="4"/>
<circle cx="423" cy="787.500" r="3" class="bl"/><circle cx="424" cy="811" r="3" class="bl"/>
<path d="M423 766V786" stroke="#d5d9e1" stroke-width="2"/>
<path class="db" d="M416.500 726Q417 717 424.500 717Q432 717 432.600 726Z"/><rect x="414" y="725.500" width="20" height="3" fill="#5f9bb0"/>
<rect x="417.500" y="729.500" width="14" height="7" class="dk"/><rect x="417.500" y="736.600" width="19.500" height="5.400" class="lg"/>
<rect x="420" y="742" width="10" height="14" class="bl"/><rect x="421" y="756" width="8" height="10.400" class="db"/>
<path class="lg" d="M431 770L437 764H446V784H437Z"/><rect x="445.600" y="763" width="10.400" height="17" class="te"/><rect x="456" y="768" width="5" height="6" class="sl"/><rect x="461" y="766" width="3" height="9" class="te"/><rect x="464" y="768" width="5" height="4" class="mg"/>
<circle cx="452.600" cy="776.600" r="2.400" class="bl"/>
</g>

<!-- ROW 5 RIGHT -->
<g transform="translate(0,86.01) scale(1,.878)">
<rect x="529.600" y="786" width="64" height="50" rx="4" class="sl"/><rect x="534" y="791.500" width="55" height="41" rx="1" class="dk"/><rect x="537.600" y="794.600" width="48.200" height="33" class="bl"/>
<path class="te" d="M550 802Q560 796 566 804Q572 815 567 823Q558 828 552 822Q546 812 550 802Z"/><path class="ye" d="M553 806Q561 801 564 807Q567 815 563 820Q556 822 553 817Q551 811 553 806Z"/><path class="re" d="M555 808Q560 804 562 809Q564 814 561 818Q557 819 555 815Z"/>
<path class="mg" d="M529.600 836H593.700L605.500 856Q605.500 858 603 858H520Q517 858 518 856Z"/><path class="dk" d="M530 841.600H593L597 849H526.500Z"/>
<path class="n" d="M561.500 858V875Q561.500 881 567 881H600Q605.500 881 606 875Q606 867.400 613 867.400H671Q676 867.400 676 862V846Q676 841 671 841H646" stroke="#abb3c2" stroke-width="1.700"/>
<path class="pk" d="M655.600 790.400L667 807.500L642 834L620 837Q617 825 621 820Q628 800 655.600 790.400Z"/>
<path class="wh" d="M627 826Q633 812 645 812Q640 818 640 824Q634 823 627 826Z"/>
<path class="lb" d="M653.700 791.500L668 782.800L677 800L662.400 810.500Z"/>
<path d="M615 861Q620 847 633.500 847Q647 847 652.500 861Z" fill="#ffb3ad"/>
<path class="mg" d="M625 832Q635 827 646 832L644 838Q640 842 641 847H628Q629 842 626 838Z"/><rect x="626.500" y="846.500" width="15" height="2.300" class="dk"/>

<rect x="736" y="757" width="92" height="73" rx="3" class="lg"/><rect x="740" y="762" width="84.500" height="67.500" rx="1.500" fill="#8a94a8"/>
<rect x="749" y="770" width="59" height="48" rx="2" class="dk"/>
<path d="M761 800L770 778Q779 773 787 778L796 802Q778 812 761 800Z" fill="#7f8aa0"/>
<circle cx="815.400" cy="773" r="3.700" fill="none" stroke="#abb3c2"/><circle cx="815.400" cy="788.500" r="3.700" fill="none" stroke="#abb3c2"/><rect x="813" y="806" width="5" height="7" class="dk"/>
<path class="lg" d="M740 830H824.500L839 870H726.500Z"/>
<path d="M757 826H807L809 834H755Z" fill="#e4e6ec"/>
<rect x="726.500" y="870" width="112.500" height="7.700" rx="3" class="sl"/>
<g class="mg"><rect x="746" y="833" width="11" height="14"/><rect x="766" y="833" width="55" height="12"/><rect x="736" y="857" width="22" height="10"/><rect x="805" y="852" width="22" height="16"/><rect x="806" y="845" width="16" height="6"/><circle cx="743" cy="853" r="3"/><circle cx="755" cy="853" r="3"/></g>
<rect x="823" y="854" width="4" height="3" class="dk"/><rect x="823" y="859" width="4" height="3" class="dk"/><rect x="823" y="864" width="4" height="3" class="dk"/>
<path d="M766 836H821M766 839H821M766 842H821M775 833V845M785 833V845M795 833V845M805 833V845" stroke="#e4e6ec" stroke-width=".6"/>
<ellipse cx="780" cy="852.500" rx="16" ry="9.500" class="te"/><ellipse cx="780" cy="852.500" rx="12.500" ry="7" class="lg"/><ellipse cx="781" cy="851" rx="7" ry="5" class="mg"/>
<path class="mg" d="M843 765C842 754 858.600 754 858.600 765C858.600 775 854.500 778 854.500 786V792H847V786C847 778 843.500 775 843 765Z"/><rect x="847" y="788" width="7.500" height="3" class="sl"/>
<path class="n" d="M851 794V800Q851 804 856 807Q861 813 857 818Q855 820 850 820H829" stroke="#66748c" stroke-width="1"/>

<path d="M959 724Q988 745 993 777H987" fill="none" stroke="#abb3c2" stroke-width="2.200" stroke-linejoin="round"/>
<rect x="987" y="785" width="65" height="9" class="mb" transform="rotate(3 987 785)"/><rect x="1049" y="780" width="3" height="19" class="lb"/>
<path class="lb" d="M987 795L1000 797Q995 818 985 824L975 822Q985 810 987 795Z"/>
<path d="M997 791L1003 785" stroke="#66748c" stroke-width="1.500"/>
<path d="M1003 826Q990 818 978 824" fill="none" stroke="#66748c" stroke-width="1.500"/>
<path d="M942 727C970 735 988 760 988 787C988 815 968 838 940 843" fill="none" stroke="#4a9bec" stroke-width="10"/>
<rect x="915.500" y="720" width="20" height="3" class="mg"/><path class="mb" d="M916 723H943V735H916Z"/><rect x="915.500" y="735" width="20" height="2" class="mg"/>
<path class="lb" d="M917 737H936L940 745V752H914V745Z"/><rect x="910.700" y="752.400" width="30.300" height="3.600" rx="1.500" class="bl"/>
<path class="lb" d="M907 864V836L919 834V829H930V836H938V846H925V858H938V864Z"/>
<path class="mg" d="M1005 802H1055V864.400H996.400Z"/>
<path d="M1020 812V802Q1020 800 1025 800H1052Q1056 800 1056 803V806H1030V814H1021Z" class="mg" stroke="#d5d9e1"/>
<path d="M1010 800L1024 792L1053 801" fill="none" stroke="#abb3c2" stroke-width="1.500"/>
<path class="lb" d="M1041 822.600H1052V847H1046Z"/>
<rect x="958.400" y="865" width="107" height="5" rx="2" class="mb"/><rect x="1005" y="868" width="20" height="4" class="lb"/>
<g fill="#fff" stroke="#66748c" stroke-width="1.800"><circle cx="963" cy="876" r="2.500"/><circle cx="1015" cy="879" r="2.500"/><circle cx="1063.600" cy="876" r="2.500"/></g>
</g>

<!-- Labels -->
<g class="l">
<text x="71" y="161" textLength="74">Blood pressure</text><text x="71" y="174" textLength="39">monitor</text>
<text x="182" y="161" textLength="90">Body temperature</text><text x="182" y="174" textLength="39">monitor</text>
<text x="305" y="161" textLength="60">Capnograph</text>
<text x="469" y="161" textLength="79">Cardiac monitor</text>
<text x="651" y="161" textLength="56">CT scanner</text>
<text x="845" y="161" textLength="135">Echocardiography machine</text>
<text x="1022" y="161" textLength="93">Electrocardiograph</text>
<text x="115" y="323" textLength="114">Electroencephalograph</text>
<text x="293" y="323" textLength="90">Electromyography</text>
<text x="428" y="323" textLength="48">Electronic</text><text x="428" y="336" textLength="102">clinical thermometer</text>
<text x="555" y="323" textLength="48">Electronic</text><text x="555" y="336" textLength="103">sphygmomanometer</text>
<text x="701" y="323" textLength="110">Fiber optic endoscope</text>
<text x="866" y="323" textLength="93">Heart rate monitor</text>
<text x="1015" y="323" textLength="73">Holter monitor</text>
<text x="84" y="497" textLength="40">Infrared</text><text x="84" y="511" textLength="110">thermography camera</text>
<text x="220" y="497" textLength="119">Interventional radiology</text><text x="220" y="511" textLength="42">machine</text>
<text x="373" y="497" textLength="63">Laparoscope</text>
<text x="537" y="497" textLength="123">Magnetoencephalograph</text>
<text x="668" y="497" textLength="69">Mammograph</text>
<text x="786" y="497" textLength="80">Medical monitor</text>
<text x="906" y="497" textLength="56">Microscope</text>
<text x="1019" y="497" textLength="63">MRI scanner</text>
<text x="92" y="688" textLength="148">Optical coherence tomograph</text>
<text x="248" y="688" textLength="79">PET-CT scanner</text>
<text x="389" y="688" textLength="87">Photofluorograph</text>
<text x="551" y="688" textLength="69">Pneumograph</text>
<text x="728" y="688" textLength="152">Portable wireless ECG monitor</text>
<text x="866" y="688" textLength="74">Pulse oximeter</text>
<text x="1001" y="688" textLength="156">Respiratory mechanics monitor</text>
<text x="112" y="870" textLength="100">Rod-lens endoscope</text>
<text x="284" y="875" textLength="115">Single photon emission</text><text x="284" y="889" textLength="108">computed tomograph</text>
<text x="427" y="872" textLength="119">Slit lamp biomicroscope</text>
<text x="598" y="874" textLength="70">Tactile imager</text>
<text x="792" y="870" textLength="97">Ultrasound scanner</text>
<text x="987" y="875" textLength="72">X-ray machine</text>
</g>
</svg>
</body></html>
